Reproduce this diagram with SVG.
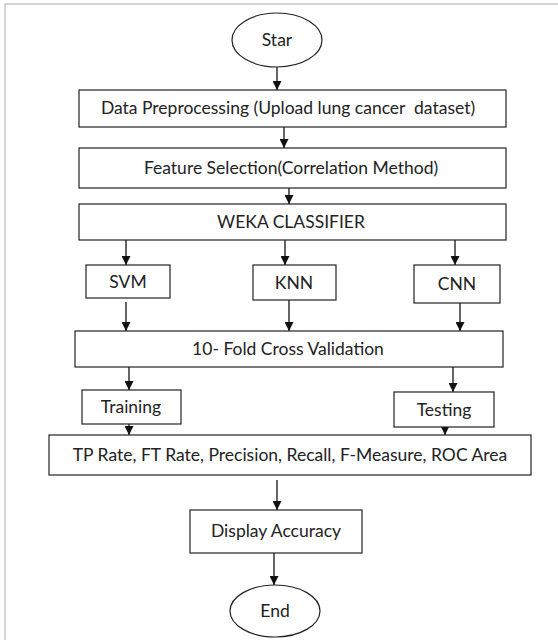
<svg xmlns="http://www.w3.org/2000/svg" width="558" height="640" viewBox="0 0 558 640">
<style>
.box{fill:#fff;stroke:#222;stroke-width:1.2}
.t{font-family:Lato,"Liberation Sans",sans-serif;font-size:17.5px;fill:#222;text-anchor:middle}
.c{stroke:#111;stroke-width:1.3;fill:none;marker-end:url(#ah)}
.frame{stroke:#c8c8c8;stroke-width:1.5;fill:none}
</style>
<defs>
<marker id="ah" viewBox="0 0 10 10" refX="10" refY="5" markerWidth="9" markerHeight="9" markerUnits="userSpaceOnUse" orient="auto">
<path d="M0,0 L10,5 L0,10 z" fill="#111"/>
</marker>
</defs>
<rect width="558" height="640" fill="#fff"/>
<path class="frame" d="M5,640 V4 H558"/>
<g id="connectors">
<line class="c" x1="277" y1="67" x2="277" y2="90"/>
<line class="c" x1="284" y1="127" x2="284" y2="148"/>
<line class="c" x1="289" y1="188" x2="289" y2="204"/>
<line class="c" x1="126" y1="240" x2="126" y2="265"/>
<line class="c" x1="285" y1="240" x2="285" y2="265"/>
<line class="c" x1="455" y1="240" x2="455" y2="265"/>
<line class="c" x1="126" y1="302" x2="126" y2="331"/>
<line class="c" x1="289" y1="300" x2="289" y2="331"/>
<line class="c" x1="460" y1="303" x2="460" y2="331"/>
<line class="c" x1="129" y1="364" x2="129" y2="390"/>
<line class="c" x1="453" y1="364" x2="453" y2="392"/>
<line class="c" x1="129" y1="424" x2="129" y2="435"/>
<line class="c" x1="445" y1="427" x2="445" y2="435"/>
<line class="c" x1="277" y1="480" x2="277" y2="510"/>
<line class="c" x1="274" y1="553" x2="274" y2="585"/>
</g>
<g id="star"><ellipse class="box" cx="277" cy="40" rx="45" ry="27"/><text class="t" x="277" y="46">Star</text></g>
<g id="preprocess"><rect class="box" x="79" y="90" width="427" height="37"/><text class="t" x="288" y="114" xml:space="preserve">Data Preprocessing (Upload lung cancer  dataset)</text></g>
<g id="feature"><rect class="box" x="79" y="148" width="427" height="40"/><text class="t" x="291" y="174">Feature Selection(Correlation Method)</text></g>
<g id="weka"><rect class="box" x="79" y="204" width="427" height="36"/><text class="t" x="291" y="228">WEKA CLASSIFIER</text></g>
<g id="svm"><rect class="box" x="86" y="265" width="84" height="33"/><text class="t" x="128" y="288">SVM</text></g>
<g id="knn"><rect class="box" x="253" y="265" width="83" height="35"/><text class="t" x="294" y="289">KNN</text></g>
<g id="cnn"><rect class="box" x="414" y="265" width="86" height="38"/><text class="t" x="457" y="290">CNN</text></g>
<g id="crossval"><rect class="box" x="75" y="331" width="428" height="36"/><text class="t" x="288" y="355">10- Fold Cross Validation</text></g>
<g id="training"><rect class="box" x="82" y="390" width="99" height="34"/><text class="t" x="131" y="413">Training</text></g>
<g id="testing"><rect class="box" x="394" y="392" width="100" height="35"/><text class="t" x="444" y="416">Testing</text></g>
<g id="metrics"><rect class="box" x="49" y="435" width="482" height="40"/><text class="t" x="290" y="461">TP Rate, FT Rate, Precision, Recall, F-Measure, ROC Area</text></g>
<g id="display"><rect class="box" x="190" y="510" width="172" height="43"/><text class="t" x="276" y="537">Display Accuracy</text></g>
<g id="end"><ellipse class="box" cx="275" cy="611" rx="45" ry="26"/><text class="t" x="275" y="617">End</text></g>
</svg>
